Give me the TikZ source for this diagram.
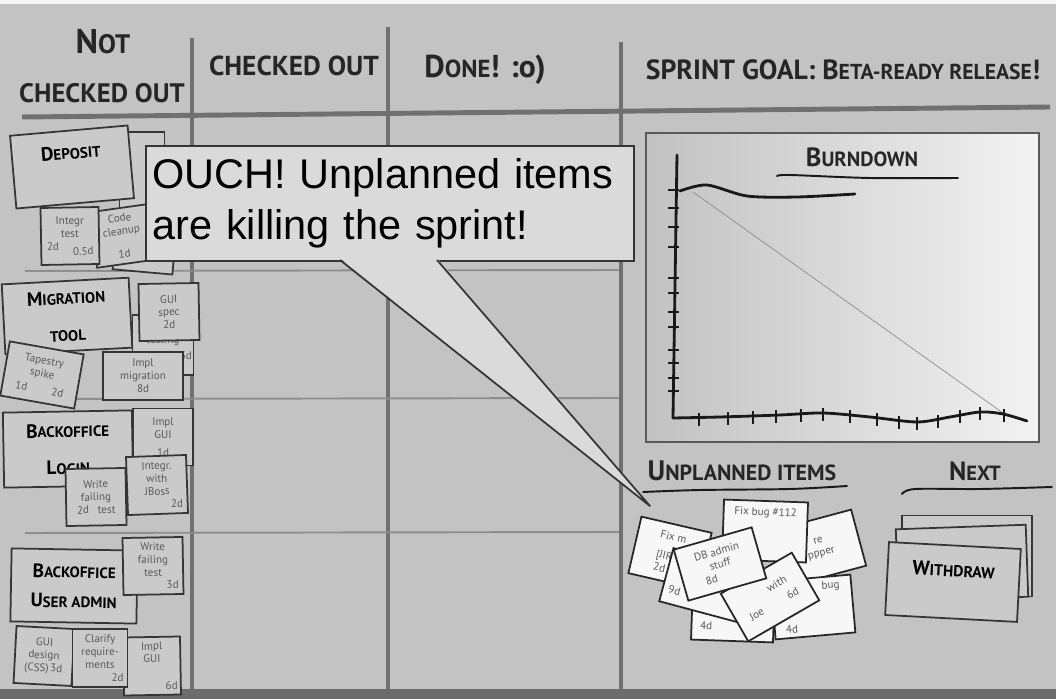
\documentclass[tikz,border=0pt]{standalone}
\usepackage{fontspec}
\setmainfont{PT Sans}
\newfontfamily\ouchfont{Liberation Sans}
\usetikzlibrary{positioning}
\definecolor{board}{HTML}{C3C3C3}
\definecolor{boardedge}{HTML}{6C6C6C}
\definecolor{gridgray}{HTML}{707070}
\definecolor{rowgray}{HTML}{8E8E8E}
\definecolor{cardgray}{HTML}{CACACA}
\definecolor{inkgray}{HTML}{353535}
\definecolor{bubblegray}{HTML}{DADADA}
\newcommand\smc[1]{\scalebox{0.78}{#1}}
\newcommand\hsz[1]{\fontsize{#1}{#1}\selectfont}
\tikzset{
  gridl/.style={draw=gridgray, line width=2.8pt},
  rowl/.style={draw=rowgray, line width=1.1pt},
  head/.style={inner sep=0, text=black!85},
  wh/.style 2 args={minimum width=#1*0.02cm, minimum height=#2*0.02cm},
  card/.style={
    draw=inkgray,
    fill=cardgray,
    line width=1pt,
    inner sep=1pt,
    align=center,
    text=black!65,
    font=\fontsize{6.3}{7.3}\selectfont
  },
  bigcard/.style={card, text=black, font=\bfseries\fontsize{11}{20}\selectfont},
  ucard/.style={card, fill=white!97!black, draw=black!85},
  bubble/.style={
    draw=inkgray,
    fill=bubblegray,
    line width=1pt,
    inner sep=0.12cm,
    align=left,
    font=\ouchfont\fontsize{23.6}{29}\selectfont
  },
  panel/.style={
    draw=black!65,
    line width=1.2pt,
    left color=black!24,
    right color=black!5
  },
  axisl/.style={line width=1.6pt, line cap=round, black!90},
  tickl/.style={line width=1.1pt, black!90},
}
\begin{document}
\begin{tikzpicture}[x=0.02cm, y=-0.02cm]
\useasboundingbox (0,0) rectangle (1056,699);
\fill[board] (0,0) rectangle (1056,699);
\fill[white!85!board] (0,0) rectangle (1056,4);
\fill[boardedge] (0,689) rectangle (1056,699);

% board lines
\draw[gridl] (22,117) -- (1050,107);
\foreach \x/\y in {192/38, 388/27, 621/42}{
  \draw[gridl] (\x,\y) -- (\x,689); }
\foreach \y in {271,399,533}{
  \draw[rowl] (25,\y) -- (619,\y-1); }

% column heads
\node[head, font=\bfseries\hsz{19.5}] (hnot) at (103,42) {N\smc{OT}};
\node[head, font=\bfseries\hsz{19.5}] (hnotco) at (102,93) {\smc{CHECKED OUT}};
\node[head, font=\bfseries\hsz{20}] (hco) at (294,66) {\smc{CHECKED OUT}};
\node[head, font=\bfseries\hsz{18}] (hdone) at (485,70) {D\smc{ONE}! :o)};
\node[head, font=\bfseries\hsz{15.8}] (hgoal) at (843,70) {SPRINT GOAL: B\smc{ETA-READY RELEASE}!};

% deposit
\node[card, wh={45}{80}] (hida) at (142,172) {};
\node[card, wh={60}{58}, rotate=-5] (hidb) at (145,243) {};
\node[card, wh={58}{56}, rotate=8] (codec) at (122,236) {Code\\ cleanup\\[6pt] 1d\hspace{16pt}};
\node[card, wh={58}{57}, rotate=1] (integr) at (70,236) {Integr\\ test\\ 2d\hspace{8pt}\raisebox{-3pt}{0.5d}};
\node[bigcard, wh={118}{73}, rotate=5, text depth=17pt] (deposit) at (72,167) {D\smc{EPOSIT}};

% migration tool
\node[card, wh={60}{60}] (hidc) at (163,345) {\\ testing\\[2pt] \hspace*{26pt}3d};
\node[bigcard, wh={127}{70}, rotate=3, font=\bfseries\fontsize{11}{21}\selectfont] (migr) at (67,316) {M\smc{IGRATION}\\ \smc{TOOL}};
\node[card, wh={60}{57}, rotate=1] (guispec) at (169,312) {GUI\\ spec\\ 2d};
\node[card, wh={75}{55}, rotate=-10] (tapestry) at (42,375) {Tapestry\\ spike\\[2pt] 1d\hspace{14pt}2d};
\node[card, wh={80}{48}] (implmig) at (143,376) {Impl\\ migration\\ 8d};

% backoffice login
\node[bigcard, wh={129}{75}, rotate=1, font=\bfseries\fontsize{11}{21}\selectfont] (login) at (68,449) {B\smc{ACKOFFICE}\\ L\smc{OGIN}};
\node[card, wh={60}{57}] (implgui) at (163,437) {Impl\\ GUI\\[3pt] 1d};
\node[card, wh={60}{57}, rotate=1] (wft) at (96,497) {Write\\ failing\\ 2d\hspace{5pt}test};
\node[card, wh={60}{58}, rotate=2] (jboss) at (157,485) {Integr.\\ with\\ JBoss\\ \hspace*{22pt}2d};

% backoffice user admin
\node[bigcard, wh={126}{73}, rotate=-1, font=\bfseries\fontsize{11}{17}\selectfont] (useradm) at (74,586) {B\smc{ACKOFFICE}\\ U\smc{SER ADMIN}};
\node[card, wh={60}{57}, rotate=1] (wftb) at (153,566) {Write\\ failing\\ test\\ \hspace*{22pt}3d};
\node[card, wh={57}{58}, rotate=1] (implguib) at (152,666) {Impl\\ GUI\\[8pt] \hspace*{22pt}6d};
\node[card, wh={58}{57}, rotate=-3] (guides) at (44,656) {GUI\\ design\\ (CSS)\hspace{1pt}3d};
\node[card, wh={55}{58}] (clarify) at (100,658) {Clarify\\ require-\\ ments\\ \hspace*{20pt}2d};

% speech bubble
\node[bubble, anchor=north west, wh={488}{115}, text width=9.5cm] (ouch) at (145,145) {OUCH! Unplanned items\\ are killing the sprint!};
\coordinate (tl) at (340,260);
\coordinate (tr) at (437,260);
\coordinate (tip) at (650,506);
\fill[bubblegray] ([yshift=1pt]tl) -- (tip) -- ([yshift=1pt]tr) -- cycle;
\draw[inkgray, line width=1pt, line join=round] (tl) -- (tip) -- (tr);

% burndown
\node[panel, wh={393}{309}] (burn) at (842.5,287.5) {};
\node[head, font=\bfseries\hsz{15}] (hburn) at (862,157) {B\smc{URNDOWN}};
\draw[axisl, line width=1.1pt] plot[smooth] coordinates {(777,176) (790,175) (870,178) (958,178)};
\draw[black!45, line width=0.4pt] (693,192) -- (1003,413);
\draw[axisl] (677,155) -- (673,418);
\draw[axisl] plot[smooth] coordinates {(673,418) (720,417) (780,415) (823,413) (870,417) (917,422) (950,417) (980,412) (1003,414) (1027,421)};
\draw[axisl] plot[smooth] coordinates {(680,191) (707,185) (747,196) (797,197) (855,194)};
\foreach \y in {190,208,227,247,278,293,312,327,350,363,378,391}{
  \draw[tickl] (668,\y) -- (679,\y); }
\foreach \x/\y in {699/418, 728/417, 753/416, 776/415, 801/414, 823/413, 850/415, 877/418, 899/421, 917/422, 938/420, 960/415, 980/412, 1004/414}{
  \draw[tickl] (\x,\y-5) -- (\x,\y+8); }

% unplanned items
\node[head, font=\bfseries\hsz{16}] (hunpl) at (742,471) {U\smc{NPLANNED ITEMS}};
\draw[axisl, line width=1.1pt] plot[smooth] coordinates {(643,492) (700,490) (790,489) (847,486)};
\node[ucard, wh={80}{58}, rotate=15] (uwrap) at (820,548) {re\\ ppper};
\node[ucard, wh={80}{58}, rotate=5] (ubug) at (813,607) {\hspace*{22pt}bug\\[16pt] 4d\hspace*{26pt}};
\node[ucard, wh={72}{58}, rotate=-13, align=left] (ufix) at (670,553) {Fix m\\[4pt] [JIRA\\ 2d};
\node[ucard, wh={84}{60}, rotate=-2, text depth=22pt] (u112) at (765,531) {Fix bug \#112};
\node[ucard, wh={82}{58}, rotate=-2] (u4d) at (733,612) {\mbox{}\\[14pt] 4d\hspace*{30pt}};
\node[ucard, wh={80}{55}, rotate=-15] (u9d) at (705,585) {\mbox{}\\[12pt] 9d\hspace*{32pt}};
\node[ucard, wh={82}{55}, rotate=30] (ujoe) at (770,597) {\hspace*{14pt}with\\[2pt] Joe\hspace{16pt}6d};
\node[ucard, wh={81}{53}, rotate=16] (udb) at (720,564) {DB admin\\ stuff\\ 8d\hspace*{14pt}};

% next
\node[head, font=\bfseries\hsz{15}] (hnext) at (975,471) {N\smc{EXT}};
\draw[axisl, line width=1.1pt] plot[smooth] coordinates {(902,494) (915,489) (980,489) (1052,487)};
\node[card, wh={130}{81}] (nback) at (967,556) {};
\node[card, wh={130}{72}, rotate=2] (nmid) at (962,563) {};
\node[bigcard, wh={132}{73}, rotate=-3, text depth=14pt, font=\bfseries\hsz{11.5}] (withdraw) at (953,582) {W\smc{ITHDRAW}};
\end{tikzpicture}
\end{document}
